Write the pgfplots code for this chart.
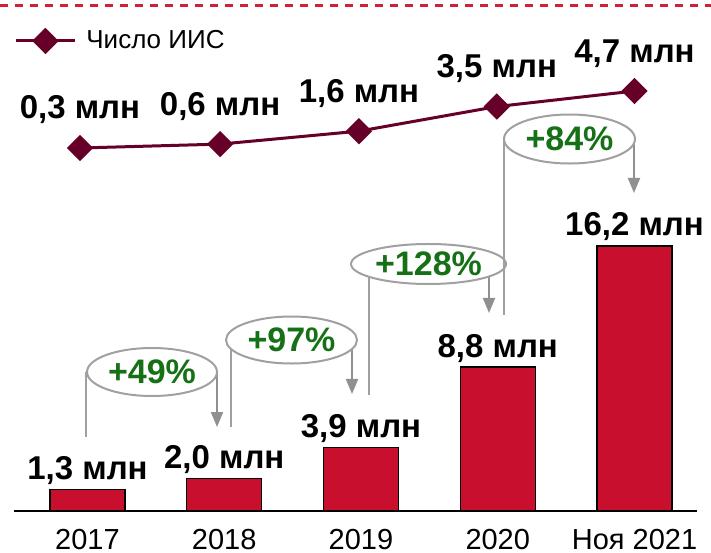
\documentclass[border=0pt]{standalone}
\usepackage{fontspec}
\setmainfont{Liberation Sans}
\usepackage{pgfplots}
\pgfplotsset{compat=1.18}
\usetikzlibrary{arrows.meta}

\definecolor{barred}{RGB}{200,16,46}
\definecolor{maroon}{RGB}{102,0,40}
\definecolor{pctgreen}{RGB}{22,112,22}
\definecolor{anngray}{RGB}{160,160,160}
\definecolor{dashred}{RGB}{208,32,58}

% growth bubble: cx, cy, rx, ry, left x, left y end, arrow x, arrow y tip, text
\newcommand\growth[9]{%
  \draw[anngray, line width=1bp] (axis cs:#5,#2) -- (axis cs:#5,#6);
  \draw[anngray!90!black, line width=1bp, -{Triangle[width=6bp,length=7.5bp]}] (axis cs:#7,#2) -- (axis cs:#7,#8);
  \draw[anngray, fill=white, line width=1bp] (axis cs:#1,#2) ellipse[x radius=#3, y radius=#4];
  \node[pctgreen, font=\fontsize{17bp}{19bp}\selectfont\bfseries] at (axis cs:#1,#2) {#9};
}

\begin{document}
\begin{tikzpicture}
% bars
\begin{axis}[
  name=bars,
  x=68.375bp, y=8.18bp,
  xmin=-0.5375, xmax=4.457, ymin=0, ymax=31.235,
  axis x line=bottom, axis y line=none,
  axis line style={-, line width=1bp, black},
  xtick={0,1,2,3,4},
  xticklabels={2017,2018,2019,2020,Ноя 2021},
  major tick length=0pt,
  xticklabel style={font=\fontsize{14.5bp}{16bp}\selectfont, anchor=base, inner sep=0pt, yshift=-19bp},
  ytick=\empty,
  clip=false,
  ybar, bar width=37.5bp,
  nodes near coords, point meta=explicit symbolic,
  every node near coord/.append style={font=\fontsize{16.5bp}{18bp}\selectfont\bfseries, anchor=base, yshift=5bp, text=black},
]
\addplot[fill=barred, draw=black, line width=0.6bp] coordinates {
  (0,1.3) [1,3 млн]
  (1,2.0) [2,0 млн]
  (2,3.9) [3,9 млн]
  (3,8.8) [8,8 млн]
  (4,16.2) [16,2 млн]
};
\draw[dashred, line width=1.5bp, dash pattern=on 4bp off 3.5bp] (axis cs:-0.6399,30.868) -- (axis cs:4.5594,30.868);
\growth{0.4717}{8.496}{32.5bp}{12bp}{-0.011}{4.523}{0.947}{5.134}{+49\%}
\growth{1.4918}{10.452}{32.75bp}{11.75bp}{1.0494}{5.134}{1.9342}{7.152}{+97\%}
\growth{2.4936}{15.098}{38.75bp}{10bp}{2.0585}{7.090}{2.936}{12.103}{+128\%}
\growth{3.5247}{22.738}{32.75bp}{12.25bp}{3.0457}{11.980}{3.9963}{19.438}{+84\%}
\end{axis}

% line: number of accounts
\begin{axis}[
  x=68.375bp, y=6.475bp,
  xmin=-0.5375, xmax=4.457, ymin=-27.73, ymax=11.73,
  hide axis, clip=false,
  nodes near coords, point meta=explicit symbolic,
  every node near coord/.append style={font=\fontsize{16.5bp}{18bp}\selectfont\bfseries, anchor=base, yshift=14.5bp, text=black},
  legend style={at={(axis description cs:0,0.9198)}, anchor=west, draw=none, fill=none,
    inner sep=0pt, font=\fontsize{13bp}{15bp}\selectfont, legend cell align=left,
    /tikz/every odd column/.append style={column sep=3bp}},
  legend image code/.code={\draw[mark repeat=2,mark phase=2,#1] plot coordinates {(0bp,0bp) (14.75bp,0bp) (29.5bp,0bp)};},
]
\addplot[color=maroon, line width=1.5bp, mark=square*, mark size=3.9bp, mark options={rotate=45, solid, fill=maroon}] coordinates {
  (-0.055,0.3) [0,3 млн]
  (0.97,0.6) [0,6 млн]
  (1.985,1.6) [1,6 млн]
  (2.993,3.5) [3,5 млн]
  (4,4.7) [4,7 млн]
};
\addlegendentry{Число ИИС}
\end{axis}
\pgfresetboundingbox
\path ([shift={(-7bp,-21bp)}]bars.south west) rectangle ([shift={(7bp,0bp)}]bars.north east);
\end{tikzpicture}
\end{document}
